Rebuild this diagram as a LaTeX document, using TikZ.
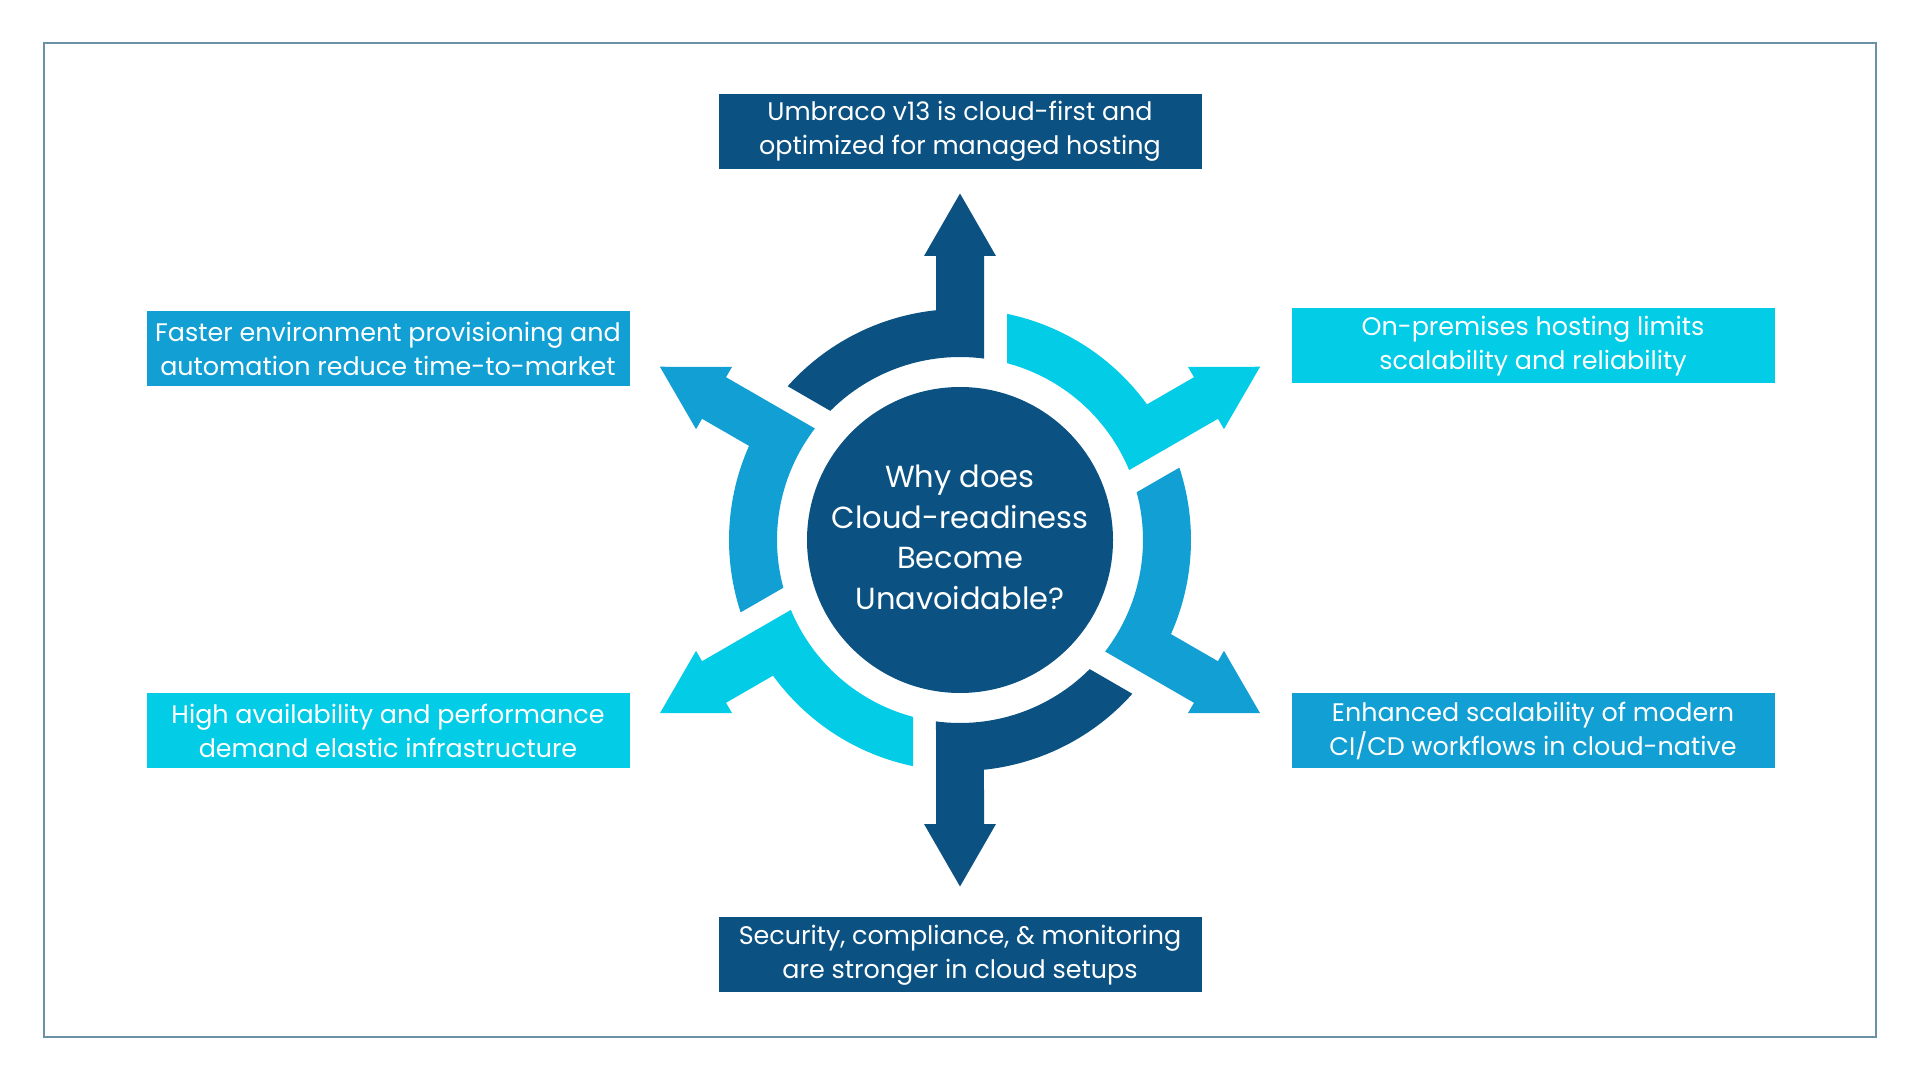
\documentclass[tikz,border=0pt]{standalone}
\usepackage{fontspec}
\setmainfont{Poppins}
\usetikzlibrary{positioning}
\definecolor{cloudNavy}{HTML}{0B5283}
\definecolor{cloudCyan}{HTML}{02CCE6}
\definecolor{cloudBlue}{HTML}{119FD4}
\definecolor{cloudFrame}{HTML}{6A92A4}

\begin{document}
\begin{tikzpicture}[x=1pt,y=1pt,
  reason/.style={minimum width=483pt,minimum height=75pt,inner sep=0pt,
    align=center,text=white,font=\fontsize{25.4}{34}\selectfont}]
  \useasboundingbox (0,0) rectangle (1920,1080);
  \draw[cloudFrame,line width=1.5pt] (44,43) rectangle (1876,1037);
  % centre question
  \node[circle,fill=cloudNavy,minimum size=306pt,inner sep=0pt] (why) at (960,540) {};
  \node[text=white,align=center,font=\fontsize{30.5}{40.5}\selectfont] (whytext)
    at ([yshift=2.5pt]why.center) {Why does\\Cloud-readiness\\Become\\Unavoidable?};
  % six curved arrows round the centre
  \foreach \rot/\col in {0/cloudNavy,-60/cloudCyan,-120/cloudBlue,
                         -180/cloudNavy,-240/cloudCyan,-300/cloudBlue}
    \fill[\col,shift={(why.center)},rotate=\rot]
      (95.96:231) arc[start angle=95.96,end angle=138.26,radius=231]
      -- (135.12:183) arc[start angle=135.12,end angle=82.46,radius=183]
      -- (24,284) -- (36,284) -- (0,346.5) -- (-36,284) -- (-24,284) -- cycle;
  % reasons
  \node[reason,fill=cloudNavy,above=218pt of why] (top)
    {Umbraco v13 is cloud-first and\\optimized for managed hosting};
  \node[reason,fill=cloudNavy,below=224pt of why] (bottom)
    {Security, compliance, \& monitoring\\are stronger in cloud setups};
  \node[reason,fill=cloudBlue] (upleft) at (388,731)
    {Faster environment provisioning and\\automation reduce time-to-market};
  \node[reason,fill=cloudCyan] (upright) at (1533,734)
    {On-premises hosting limits\\scalability and reliability};
  \node[reason,fill=cloudCyan] (lowleft) at (388,349)
    {High availability and performance\\demand elastic infrastructure};
  \node[reason,fill=cloudBlue] (lowright) at (1533,349)
    {Enhanced scalability of modern\\CI/CD workflows in cloud-native};
\end{tikzpicture}
\end{document}
